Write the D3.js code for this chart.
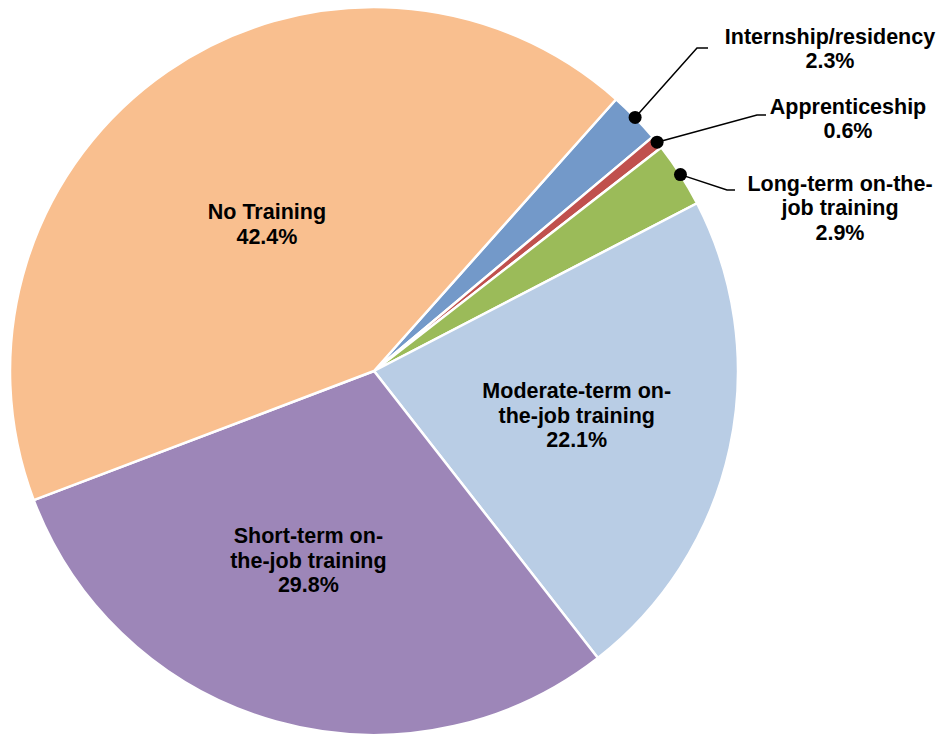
<!DOCTYPE html>
<html><head><meta charset="utf-8">
<script src="https://cdn.jsdelivr.net/npm/d3@7"></script>
<style>body{margin:0;background:#fff}svg{display:block}text{font-family:"Liberation Sans",Arial,sans-serif;font-weight:bold;font-size:21.5px;fill:#000}</style>
</head><body>
<svg id="c" width="939" height="734"></svg>
<script>
const categories = ["Internship/residency","Apprenticeship","Long-term on-the-job training","Moderate-term on-the-job training","Short-term on-the-job training","No Training"];
const values = [2.3, 0.6, 2.9, 22.1, 29.8, 42.4];
const labelLines = [["Internship/residency"],["Apprenticeship"],["Long-term on-the-","job training"],["Moderate-term on-","the-job training"],["Short-term on-","the-job training"],["No Training"]];
const colors = ["#7399C9","#C0504D","#9BBB59","#B9CDE5","#9D86B8","#F9BF8F"];

const W=939,H=734,cx=374,cy=371,R=364;
const startA = 41.7*Math.PI/180;
const svg=d3.select("#c");
const g=svg.append("g").attr("transform",`translate(${cx},${cy})`);
const pie=d3.pie().sort(null).value(d=>d).startAngle(startA).endAngle(startA+2*Math.PI);
const arcs=pie(values);
const arc=d3.arc().innerRadius(0).outerRadius(R);
g.selectAll("path").data(arcs).join("path").attr("d",arc)
 .attr("fill",(d,i)=>colors[i]).attr("stroke","#fff").attr("stroke-width",2.5).attr("stroke-linejoin","round");

const inside = {3:{rf:0.57,da:0},4:{rf:0.55,da:3.5},5:{rf:0.5,da:-1.5}};
const outside = {0:{elbow:[697,48],end:[708,48],tx:830,ty:36},
                 1:{elbow:[757,115],end:[766,115],tx:848,ty:106},
                 2:{elbow:[727,190],end:[735,190],tx:840,ty:183}};
const lh=24.5;
arcs.forEach((d,i)=>{
  const mid=(d.startAngle+d.endAngle)/2;
  const pctLabel=d3.format(".1f")(values[i])+"%";
  const lines=labelLines[i].concat([pctLabel]);
  if(inside[i]){
    const a=mid+inside[i].da*Math.PI/180, r=R*inside[i].rf;
    const x=cx+r*Math.sin(a), y=cy-r*Math.cos(a);
    const t=svg.append("text").attr("text-anchor","middle");
    const y0=y-(lines.length-1)*lh/2;
    lines.forEach((l,k)=>t.append("tspan").attr("x",x).attr("y",y0+k*lh).attr("dy","0.35em").text(l));
  } else {
    const o=outside[i];
    const px=cx+R*Math.sin(mid), py=cy-R*Math.cos(mid);
    svg.append("polyline").attr("points",[[px,py],o.elbow,o.end].map(p=>p.join(",")).join(" "))
      .attr("fill","none").attr("stroke","#000").attr("stroke-width",1.5);
    svg.append("circle").attr("cx",px).attr("cy",py).attr("r",6.5).attr("fill","#000");
    const t=svg.append("text").attr("text-anchor","middle");
    lines.forEach((l,k)=>t.append("tspan").attr("x",o.tx).attr("y",o.ty+k*lh).attr("dy","0.35em").text(l));
  }
});
</script>
</body></html>
